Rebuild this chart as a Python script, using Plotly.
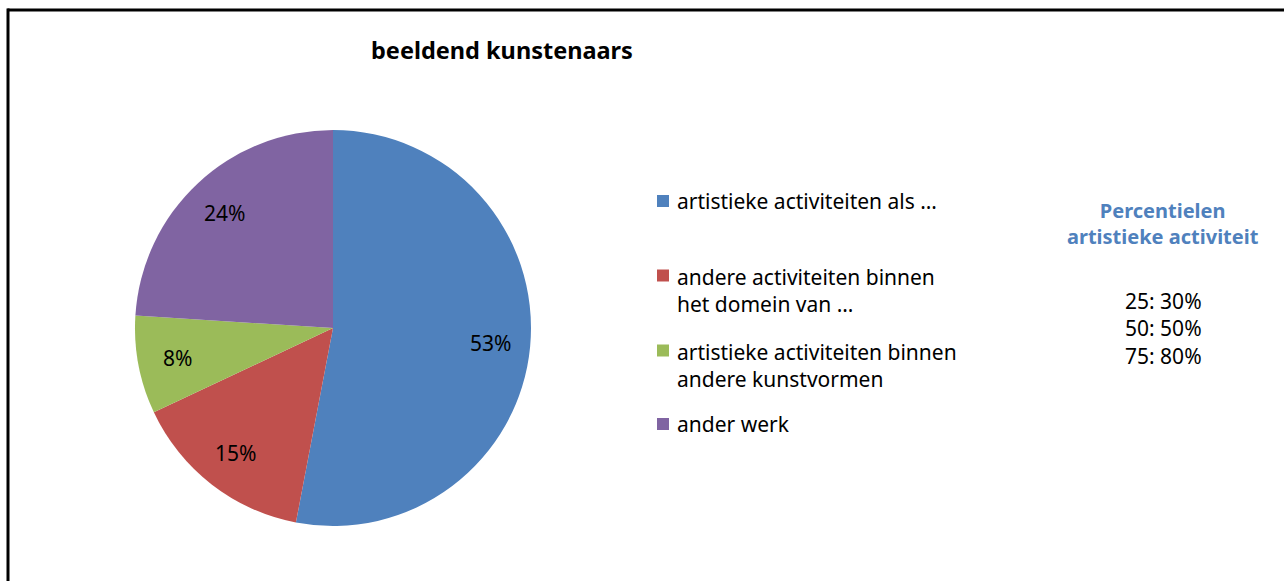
import math
import plotly.graph_objects as go

# Share of working time per activity type (percent)
categories = [
    "artistieke activiteiten als …",
    "andere activiteiten binnen<br>het domein van …",
    "artistieke activiteiten binnen<br>andere kunstvormen",
    "ander werk",
]
shares = [53, 15, 8, 24]
colors = ["#4F81BD", "#C0504D", "#9BBB59", "#8064A2"]

percentile_title = "Percentielen<br>artistieke activiteit"
percentile_labels = ["25: 30%", "50: 50%", "75: 80%"]

W, H = 1284, 581
FONT = "Noto Sans"

# Pie placement in pixels (centre and radius)
cx, cy, r = 333, 328, 198

fig = go.Figure()
fig.add_trace(go.Pie(
    labels=categories,
    values=shares,
    marker=dict(colors=colors, line=dict(width=0)),
    sort=False,
    direction="clockwise",
    rotation=0,
    textinfo="none",
    hoverinfo="label+percent",
    showlegend=False,
    domain=dict(x=[(cx - r) / W, (cx + r) / W],
                y=[(H - cy - r) / H, (H - cy + r) / H]),
))

annotations = []

# Percentage labels at 80% of the radius along each slice's mid-angle
total = sum(shares)
cum = 0
for v in shares:
    mid = (cum + v / 2) / total * 2 * math.pi
    cum += v
    px = cx + 0.8 * r * math.sin(mid)
    py = cy - 0.8 * r * math.cos(mid)
    annotations.append(dict(
        x=px / W, y=1 - py / H, xref="paper", yref="paper",
        text=f"{round(v / total * 100)}%", showarrow=False,
        font=dict(family=FONT, size=21, color="#000000"),
        xanchor="center", yanchor="middle",
    ))

# Title
annotations.append(dict(
    x=502 / W, y=1 - 50 / H, xref="paper", yref="paper",
    text="<b>beeldend kunstenaars</b>", showarrow=False,
    font=dict(family=FONT, size=23.5, color="#000000"),
    xanchor="center", yanchor="middle",
))

# Legend
legend_y = [201, 290, 365, 424]
shapes = []
for name, col, ly in zip(categories, colors, legend_y):
    first_line_y = ly - (14.5 if "<br>" in name else 0)
    shapes.append(dict(
        type="rect", xref="paper", yref="paper",
        x0=657 / W, x1=669 / W,
        y0=1 - (first_line_y + 6) / H, y1=1 - (first_line_y - 6) / H,
        fillcolor=col, line=dict(width=0),
    ))
    annotations.append(dict(
        x=675 / W, y=1 - ly / H, xref="paper", yref="paper",
        text=name, showarrow=False, align="left",
        font=dict(family=FONT, size=21, color="#000000"),
        xanchor="left", yanchor="middle",
    ))

# Percentile note
annotations.append(dict(
    x=1163 / W, y=1 - 223 / H, xref="paper", yref="paper",
    text=f"<b>{percentile_title}</b>", showarrow=False, align="center",
    font=dict(family=FONT, size=20, color="#4F81BD"),
    xanchor="center", yanchor="middle",
))
annotations.append(dict(
    x=1163 / W, y=1 - 328 / H, xref="paper", yref="paper",
    text="<br>".join(percentile_labels), showarrow=False, align="center",
    font=dict(family=FONT, size=21, color="#000000"),
    xanchor="center", yanchor="middle",
))

# Frame (top and left edges visible)
shapes.append(dict(type="line", xref="paper", yref="paper",
                   x0=7.5 / W, x1=1, y0=1 - 10 / H, y1=1 - 10 / H,
                   line=dict(color="#000000", width=3)))
shapes.append(dict(type="line", xref="paper", yref="paper",
                   x0=8 / W, x1=8 / W, y0=0, y1=1 - 8.5 / H,
                   line=dict(color="#000000", width=3)))

fig.update_layout(
    width=W, height=H,
    margin=dict(l=0, r=0, t=0, b=0),
    paper_bgcolor="#FFFFFF", plot_bgcolor="#FFFFFF",
    annotations=annotations, shapes=shapes,
)

fig.write_html("out.html")
